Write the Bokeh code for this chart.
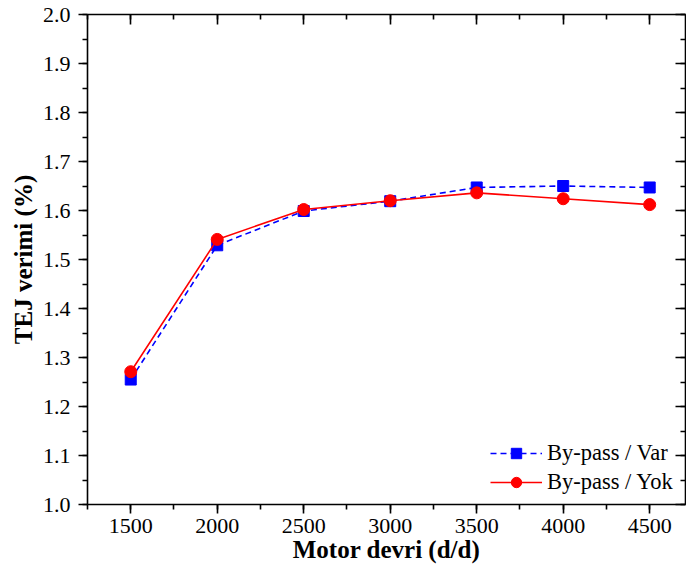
from bokeh.plotting import figure
from bokeh.models import LinearAxis, SingleIntervalTicker, Range1d, NumeralTickFormatter, CustomJSTickFormatter
from bokeh.embed import file_html
from bokeh.resources import INLINE

rpm = [1500, 2000, 2500, 3000, 3500, 4000, 4500]
bypass_var = [1.255, 1.529, 1.599, 1.619, 1.647, 1.650, 1.647]
bypass_yok = [1.271, 1.541, 1.602, 1.620, 1.636, 1.624, 1.612]

FONT = "Liberation Serif"

p = figure(width=686, height=574, output_backend="svg", toolbar_location=None,
           x_range=Range1d(1250, 4707), y_range=Range1d(1.0, 2.0),
           min_border_left=87, min_border_right=1, min_border_top=14, min_border_bottom=70,
           x_axis_label="Motor devri (d/d)", y_axis_label="TEJ verimi (%)")
p.xgrid.visible = False
p.ygrid.visible = False
p.outline_line_color = None

xt = SingleIntervalTicker(interval=500, num_minor_ticks=2)
yt = SingleIntervalTicker(interval=0.1, num_minor_ticks=2)

for ax, t in ((p.xaxis[0], xt), (p.yaxis[0], yt)):
    ax.ticker = t
    ax.axis_line_width = 1.6
    ax.major_tick_line_width = 1.6
    ax.minor_tick_line_width = 1.6
    ax.major_tick_out = 9
    ax.major_tick_in = 0
    ax.minor_tick_out = 5
    ax.minor_tick_in = 0
    ax.major_label_text_font = FONT
    ax.major_label_text_font_size = "22px"
    ax.major_label_text_color = "black"
    ax.axis_label_text_font = FONT
    ax.axis_label_text_font_size = "25px"
    ax.axis_label_text_font_style = "bold"
    ax.axis_label_text_color = "black"

p.xaxis[0].major_label_standoff = 5
p.xaxis[0].axis_label_standoff = 0
p.yaxis[0].major_label_standoff = 8
p.yaxis[0].axis_label_standoff = 3
p.yaxis[0].formatter = NumeralTickFormatter(format="0.0")

for loc, t in (("above", xt), ("right", yt)):
    ax = LinearAxis(ticker=t, formatter=CustomJSTickFormatter(code="return '';"))
    ax.axis_line_width = 1.6
    ax.major_tick_line_width = 1.6
    ax.minor_tick_line_width = 1.6
    ax.major_tick_in = 10
    ax.major_tick_out = 0
    ax.minor_tick_in = 5
    ax.minor_tick_out = 0
    ax.major_label_text_font_size = "1px"
    ax.major_label_standoff = 0
    p.add_layout(ax, loc)

p.line(rpm, bypass_var, line_color="blue", line_width=1.6, line_dash="6 4", legend_label="By-pass / Var")
p.scatter(rpm, bypass_var, marker="square", size=11, fill_color="blue", line_color="blue", legend_label="By-pass / Var")
p.line(rpm, bypass_yok, line_color="red", line_width=1.6, legend_label="By-pass / Yok")
p.scatter(rpm, bypass_yok, marker="circle", size=12, fill_color="red", line_color="red", legend_label="By-pass / Yok")

lg = p.legend[0]
lg.location = (403, 9)
lg.padding = 0
lg.margin = 0
lg.spacing = 3
lg.glyph_width = 52
lg.glyph_height = 26
lg.label_height = 26
lg.label_standoff = 5
lg.label_text_font = FONT
lg.label_text_font_size = "22.5px"
lg.label_text_color = "black"
lg.border_line_color = None
lg.background_fill_alpha = 0

open("out.html", "w").write(file_html(p, INLINE))
